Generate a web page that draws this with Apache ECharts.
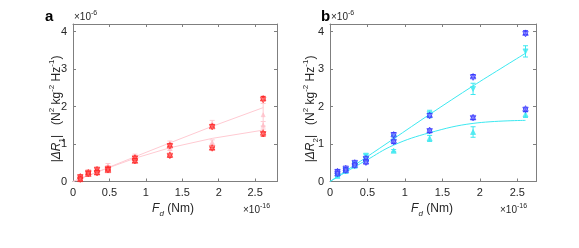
<!DOCTYPE html>
<html><head><meta charset="utf-8">
<script src="https://cdn.jsdelivr.net/npm/echarts@6/dist/echarts.min.js"></script>
<style>html,body{margin:0;padding:0;background:#fff}#c{width:579px;height:248px}</style>
</head><body><div id="c"></div>
<script>
// ---- data (x in units of 1e-16 Nm, y in units of 1e-6) ----
const fd = [0.1, 0.21, 0.33, 0.48, 0.85, 1.33, 1.91, 2.61];
const fdFit = [0, 0.1, 0.21, 0.33, 0.48, 0.85, 1.33, 1.91, 2.61];
const xTicks = [0, 0.5, 1, 1.5, 2, 2.5];
const yTicks = [0, 1, 2, 3, 4];

// panel a: measured (red)
const aUpperUp = [0.14, 0.25, 0.33, 0.35, 0.64, 0.97, 1.48, 2.22];
const aUpperDn = [0.11, 0.23, 0.31, 0.33, 0.61, 0.94, 1.45, 2.17];
const aLowerUp = [0.07, 0.21, 0.25, 0.31, 0.56, 0.72, 0.91, 1.31];
const aLowerDn = [0.05, 0.20, 0.22, 0.30, 0.54, 0.68, 0.88, 1.26];
const aErr = [0.03, 0.02, 0.03, 0.02, 0.03, 0.03, 0.03, 0.05];
// panel a: model (pink)
const aFitUpper = [0, 0.08, 0.16, 0.25, 0.37, 0.66, 1.03, 1.47, 1.97];
const aFitLower = [0, 0.08, 0.16, 0.25, 0.36, 0.62, 0.90, 1.15, 1.37];
const aModelUpper = [0.12, 0.22, 0.30, 0.42, 0.68, 1.03, 1.55, 1.78];
const aModelUpperErr = [0.02, 0.02, 0.03, 0.06, 0.05, 0.05, 0.08, 0.30];
const aModelLower = [0.10, 0.20, 0.27, 0.38, 0.62, 0.88, 1.05, 1.50];
const aModelLowerErr = [0.02, 0.02, 0.03, 0.04, 0.04, 0.05, 0.06, 0.10];

// panel b: measured (blue)
const bUpperUp = [0.28, 0.36, 0.51, 0.62, 1.26, 1.78, 2.81, 3.97];
const bUpperDn = [0.25, 0.34, 0.49, 0.60, 1.23, 1.74, 2.77, 3.93];
const bLowerUp = [0.22, 0.31, 0.45, 0.54, 1.10, 1.38, 1.72, 1.95];
const bLowerDn = [0.20, 0.29, 0.42, 0.50, 1.05, 1.34, 1.69, 1.91];
const bErr = [0.03, 0.02, 0.03, 0.03, 0.04, 0.04, 0.04, 0.05];
// panel b: model (cyan)
const bModelUpper = [0.17, 0.31, 0.46, 0.69, 1.18, 1.80, 2.47, 3.47];
const bModelUpperErr = [0.02, 0.03, 0.03, 0.04, 0.05, 0.10, 0.15, 0.15];
const bModelLower = [0.15, 0.28, 0.42, 0.60, 0.82, 1.15, 1.32, 1.79];
const bModelLowerErr = [0.02, 0.02, 0.03, 0.04, 0.03, 0.08, 0.14, 0.08];
const bFitUpper = [0, 0.13, 0.28, 0.44, 0.64, 1.14, 1.79, 2.55, 3.42];
const bFitLower = [0, 0.12, 0.25, 0.39, 0.56, 0.97, 1.30, 1.55, 1.63];

// ---- helpers ----
const FONT = 'Liberation Sans, Arial, sans-serif';
const AX = '#7f7f7f';
const TXT = '#262626';

function pts(xs, ys){ return xs.map((x,i)=>[x, ys[i]]); }
function errSeries(xs, ys, es, color, gi, z){
  return {
    type:'custom', xAxisIndex:gi*2, yAxisIndex:gi*2, z:z||3, silent:true,
    data: xs.map((x,i)=>[x, ys[i], ys[i]-es[i], ys[i]+es[i]]),
    encode:{x:0, y:[1,2,3]},
    renderItem:function(params, api){
      const x = api.value(0);
      const p1 = api.coord([x, api.value(2)]);
      const p2 = api.coord([x, api.value(3)]);
      const w = 2.5;
      const st = {stroke:color, lineWidth:1};
      return {type:'group', children:[
        {type:'line', shape:{x1:p1[0],y1:p1[1],x2:p2[0],y2:p2[1]}, style:st},
        {type:'line', shape:{x1:p1[0]-w,y1:p1[1],x2:p1[0]+w,y2:p1[1]}, style:st},
        {type:'line', shape:{x1:p2[0]-w,y1:p2[1],x2:p2[0]+w,y2:p2[1]}, style:st}
      ]};
    }
  };
}
function markSeries(xs, ys, gi, rot, fill, edge, size, z){
  return {
    type:'scatter', xAxisIndex:gi*2, yAxisIndex:gi*2, z:z||4, silent:true,
    symbol:'triangle', symbolRotate:rot, symbolSize:size||5.5,
    itemStyle:{color:fill, borderColor:edge, borderWidth:0.8},
    data: pts(xs, ys)
  };
}
function lineSeries(xs, ys, gi, color, smooth){
  return {
    type:'line', xAxisIndex:gi*2, yAxisIndex:gi*2, z:2, silent:true,
    showSymbol:false, smooth:smooth||false,
    lineStyle:{color:color, width:1}, data: pts(xs, ys)
  };
}

const grids = [
  {left:73, top:24, width:204, height:157.5},
  {left:330, top:24, width:206, height:157.5}
];
const xMax = [2.8, 2.75];
const xAxes = [], yAxes = [];
grids.forEach((g, gi)=>{
  const base = {
    type:'value', gridIndex:gi, min:0, interval:0.5,
    axisLine:{show:true, onZero:false, lineStyle:{color:AX, width:1}},
    axisTick:{show:true, inside:true, length:3, lineStyle:{color:AX}},
    splitLine:{show:false},
    axisLabel:{color:TXT, fontFamily:FONT, fontSize:11, margin:6,
      formatter:v=> xTicks.indexOf(+v.toFixed(2))>=0 ? String(+v.toFixed(2)) : ''}
  };
  xAxes.push(Object.assign({}, base, {max:xMax[gi], position:'bottom'}));
  xAxes.push(Object.assign({}, base, {max:xMax[gi], position:'top', axisLabel:{show:false}}));
  const ybase = {
    type:'value', gridIndex:gi, min:0, max:4.2, interval:1,
    axisLine:{show:true, onZero:false, lineStyle:{color:AX, width:1}},
    axisTick:{show:true, inside:true, length:3, lineStyle:{color:AX}},
    splitLine:{show:false},
    axisLabel:{color:TXT, fontFamily:FONT, fontSize:11, margin:6,
      formatter:v=> yTicks.indexOf(v)>=0 ? String(v) : ''}
  };
  yAxes.push(Object.assign({}, ybase, {position:'left'}));
  yAxes.push(Object.assign({}, ybase, {position:'right', axisLabel:{show:false}}));
});

const RED_F = 'rgba(255,110,110,0.55)', RED_E = '#ff2020';
const PINK = '#ffcad2', PINK_M = 'rgba(255,185,195,0.8)';
const BLUE_F = 'rgba(130,130,255,0.55)', BLUE_E = '#3030ff';
const CYAN = '#3de8f0';

const series = [
  // panel a
  lineSeries(fdFit, aFitUpper, 0, PINK),
  lineSeries(fdFit, aFitLower, 0, PINK),
  errSeries(fd, aModelUpper, aModelUpperErr, PINK, 0, 2),
  errSeries(fd, aModelLower, aModelLowerErr, PINK, 0, 2),
  markSeries(fd, aModelUpper, 0, 0, PINK_M, PINK_M, 4, 2),
  markSeries(fd, aModelLower, 0, 0, PINK_M, PINK_M, 4, 2),
  errSeries(fd, aUpperUp, aErr, RED_E, 0),
  errSeries(fd, aLowerDn, aErr, RED_E, 0),
  markSeries(fd, aUpperUp, 0, 0, RED_F, RED_E),
  markSeries(fd, aUpperDn, 0, 180, RED_F, RED_E),
  markSeries(fd, aLowerUp, 0, 0, RED_F, RED_E),
  markSeries(fd, aLowerDn, 0, 180, RED_F, RED_E),
  // panel b
  lineSeries(fdFit, bFitUpper, 1, CYAN, 0.3),
  lineSeries(fdFit, bFitLower, 1, CYAN, 0.4),
  errSeries(fd, bModelUpper, bModelUpperErr, CYAN, 1),
  errSeries(fd, bModelLower, bModelLowerErr, CYAN, 1),
  markSeries(fd, bModelUpper, 1, 180, CYAN, CYAN, 5),
  markSeries(fd, bModelLower, 1, 0, CYAN, CYAN, 5),
  errSeries(fd, bUpperUp, bErr, BLUE_E, 1),
  errSeries(fd, bLowerDn, bErr, BLUE_E, 1),
  markSeries(fd, bUpperUp, 1, 0, BLUE_F, BLUE_E),
  markSeries(fd, bUpperDn, 1, 180, BLUE_F, BLUE_E),
  markSeries(fd, bLowerUp, 1, 0, BLUE_F, BLUE_E),
  markSeries(fd, bLowerDn, 1, 180, BLUE_F, BLUE_E)
];

const richBase = {
  n:{fontSize:12, fontFamily:FONT, color:TXT, lineHeight:18},
  i:{fontSize:12, fontFamily:FONT, fontStyle:'italic', color:TXT, lineHeight:18},
  sup:{fontSize:8, fontFamily:FONT, color:TXT, verticalAlign:'top'},
  sub:{fontSize:8, fontFamily:FONT, color:TXT, verticalAlign:'bottom'},
  subi:{fontSize:8, fontFamily:FONT, fontStyle:'italic', color:TXT, verticalAlign:'bottom'},
  s:{fontSize:10, fontFamily:FONT, color:TXT, lineHeight:14},
  ss:{fontSize:7, fontFamily:FONT, color:TXT, verticalAlign:'top'}
};
function txt(x, y, text, opts){
  return Object.assign({type:'text', x:x, y:y, silent:true,
    style:Object.assign({text:text, rich:richBase, fill:TXT, font:'12px '+FONT}, opts&&opts.style||{})},
    opts&&opts.extra||{});
}
const graphic = [
  txt(45, 9, 'a', {style:{font:'bold 15px '+FONT, fill:'#000'}}),
  txt(321, 9, 'b', {style:{font:'bold 15px '+FONT, fill:'#000'}}),
  txt(74, 10, '{s|×10}{ss|-6}', {}),
  txt(331, 10, '{s|×10}{ss|-6}', {}),
  txt(243, 203, '{s|×10}{ss|-16}', {}),
  txt(500, 203, '{s|×10}{ss|-16}', {}),
  txt(173, 209, '{i|F}{subi|d}{n| (Nm)}', {style:{align:'center', verticalAlign:'middle'}}),
  txt(432, 209, '{i|F}{subi|d}{n| (Nm)}', {style:{align:'center', verticalAlign:'middle'}}),
  txt(57, 109, '{n||}{i|ΔR}{sub|1}{n||   (N}{sup|2}{n| kg}{sup|-2}{n| Hz}{sup|-1}{n|)}',
    {style:{align:'center', verticalAlign:'middle'}, extra:{rotation:Math.PI/2}}),
  txt(311, 109, '{n||}{i|ΔR}{sub|2}{n||   (N}{sup|2}{n| kg}{sup|-2}{n| Hz}{sup|-1}{n|)}',
    {style:{align:'center', verticalAlign:'middle'}, extra:{rotation:Math.PI/2}})
];

const chart = echarts.init(document.getElementById('c'), null, {renderer:'canvas'});
chart.setOption({
  backgroundColor:'#fff', animation:false,
  grid:grids, xAxis:xAxes, yAxis:yAxes, series:series, graphic:graphic
});
</script></body></html>
